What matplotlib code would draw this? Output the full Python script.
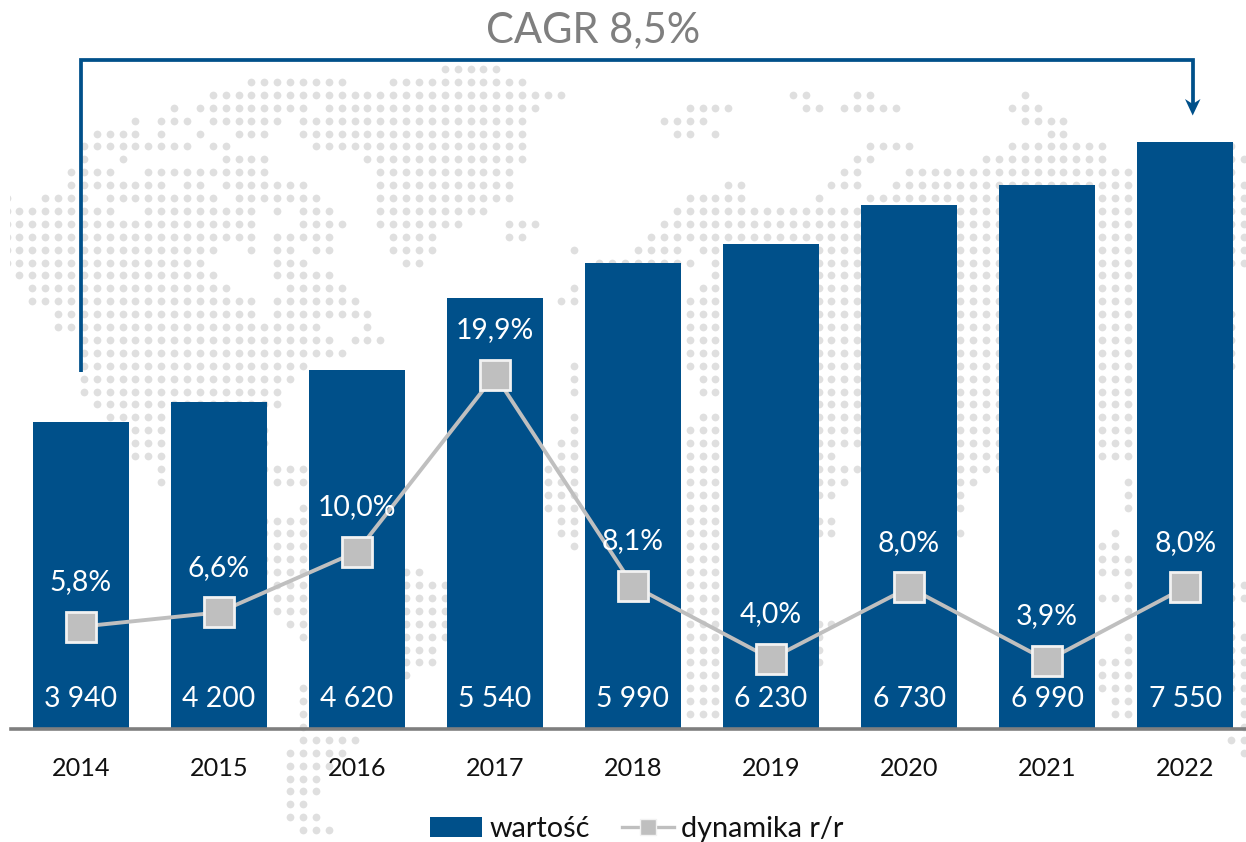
import matplotlib
matplotlib.use("Agg")
import matplotlib.pyplot as plt
from matplotlib.lines import Line2D
from matplotlib.patches import Patch, Polygon

plt.rcParams['font.family'] = ['Lato', 'DejaVu Sans']

years = ['2014', '2015', '2016', '2017', '2018', '2019', '2020', '2021', '2022']
values = [3940, 4200, 4620, 5540, 5990, 6230, 6730, 6990, 7550]
value_labels = ['3 940', '4 200', '4 620', '5 540', '5 990', '6 230', '6 730', '6 990', '7 550']
growth = [5.8, 6.6, 10.0, 19.9, 8.1, 4.0, 8.0, 3.9, 8.0]
growth_labels = ['5,8%', '6,6%', '10,0%', '19,9%', '8,1%', '4,0%', '8,0%', '3,9%', '8,0%']
cagr_label = 'CAGR 8,5%'
legend_labels = ['wartość', 'dynamika r/r']

# Decorative dotted world map: column runs per row of the dot grid
map_rows = [
    [(33, 37)],
    [(18, 25), (29, 39)],
    [(15, 42), (60, 61), (65, 66), (78, 78)],
    [(12, 12), (14, 22), (24, 40), (52, 55), (61, 62), (64, 68), (77, 79)],
    [(9, 9), (11, 13), (15, 20), (22, 39), (50, 53), (78, 81)],
    [(6, 9), (11, 11), (14, 14), (17, 19), (22, 39), (51, 52), (54, 54), (80, 81)],
    [(5, 13), (15, 16), (23, 39), (66, 69), (77, 84), (94, 94)],
    [(5, 5), (8, 8), (16, 19), (27, 39), (65, 66), (75, 84), (94, 95)],
    [(4, 7), (10, 19), (28, 38), (64, 65), (69, 86), (94, 94)],
    [(4, 11), (13, 14), (16, 22), (28, 38), (55, 56), (63, 65), (68, 86), (94, 95)],
    [(-1, -1), (2, 5), (7, 15), (17, 23), (28, 38), (52, 56), (62, 62), (66, 86), (94, 95)],
    [(-1, 7), (10, 18), (20, 20), (22, 24), (28, 36), (51, 86), (94, 95)],
    [(-1, 18), (22, 25), (28, 34), (38, 40), (50, 86), (94, 95)],
    [(-1, 18), (20, 24), (29, 32), (38, 39), (49, 86), (94, 95)],
    [(-1, 15), (18, 18), (20, 21), (23, 24), (29, 32), (43, 43), (48, 51), (53, 86), (94, 95)],
    [(-1, 14), (20, 22), (30, 31), (45, 52), (54, 86), (94, 95)],
    [(0, 15), (20, 24), (54, 54), (62, 86)],
    [(1, 16), (21, 25), (43, 43), (53, 54), (62, 86)],
    [(1, 18), (20, 26), (42, 43), (52, 54), (62, 86)],
    [(3, 18), (20, 27), (52, 54), (62, 86), (94, 94)],
    [(3, 23), (27, 27), (52, 54), (62, 86), (94, 94)],
    [(5, 24), (26, 28), (52, 54), (62, 86), (94, 94)],
    [(5, 25), (52, 54), (62, 86), (94, 94)],
    [(5, 22), (43, 43), (52, 54), (62, 86), (94, 94)],
    [(5, 21), (43, 43), (53, 54), (62, 86)],
    [(5, 20), (43, 43), (53, 54), (62, 86)],
    [(6, 20), (62, 86)],
    [(7, 11), (43, 43), (53, 54), (62, 86)],
    [(9, 11), (19, 19), (43, 43), (52, 54), (62, 65), (73, 76), (84, 86)],
    [(9, 11), (19, 19), (42, 43), (52, 54), (62, 65), (73, 76), (84, 86)],
    [(9, 11), (42, 43), (52, 54), (62, 63), (73, 76), (84, 86)],
    [(11, 11), (19, 22), (41, 43), (52, 54), (62, 65), (73, 76)],
    [(11, 11), (20, 22), (41, 43), (52, 54), (62, 64), (73, 74), (86, 86)],
    [(41, 43), (52, 54), (62, 63), (73, 73), (86, 86)],
    [(22, 22), (41, 43), (52, 54), (73, 73), (86, 86)],
    [(19, 22), (42, 43), (52, 54), (62, 63)],
    [(19, 22), (42, 43), (52, 54), (62, 63), (73, 73), (85, 85)],
    [(20, 22), (43, 43), (52, 54), (84, 85)],
    [(19, 22), (52, 54), (84, 86)],
    [(19, 22), (30, 31), (52, 54), (84, 86)],
    [(20, 22), (30, 33), (52, 54), (86, 86), (94, 95)],
    [(20, 22), (30, 33), (52, 54), (84, 86), (94, 95)],
    [(20, 22), (30, 33), (52, 54), (86, 86)],
    [(21, 22), (30, 33), (52, 54), (62, 63), (94, 94)],
    [(22, 22), (30, 33), (52, 54), (62, 62), (86, 86), (94, 95)],
    [(30, 32), (52, 54), (62, 62), (86, 86), (94, 95)],
    [(30, 32), (52, 54), (62, 62), (84, 86), (94, 95)],
    [(30, 30), (52, 54), (84, 86), (94, 95)],
    [(22, 22), (52, 54), (84, 86), (94, 95)],
    [(22, 22), (52, 54), (85, 86), (95, 95)],
    [(22, 22), (52, 54), (85, 86), (95, 95)],
    [(22, 22), (95, 95)],
    [(22, 26), (94, 95)],
    [(21, 25), (95, 95)],
    [(21, 24)],
    [(21, 23)],
    [(21, 23)],
    [(21, 22)],
    [(21, 23)],
    [(22, 24)],
]

W, H = 1246, 842
BLUE = '#00508A'
GREY = '#BFBFBF'

fig = plt.figure(figsize=(W / 100, H / 100), dpi=100, facecolor='white')

# background layer in pixel coordinates
bg = fig.add_axes([10 / W, 0, (W - 10) / W, 1], zorder=0)
bg.set_xlim(10, W)
bg.set_ylim(H, 0)
bg.axis('off')
dx, dy = [], []
for r, runs in enumerate(map_rows):
    for a, b in runs:
        for k in range(a, b + 1):
            dx.append(19.4 + 12.89 * k)
            dy.append(69 + 12.9 * r)
bg.scatter(dx, dy, s=31, c='#DFDFDF', linewidths=0)

# main chart
PX_PER_CAT = 138.05
X0 = 80.8
Y0 = 729.0
PX_PER_VAL = 0.0778
ax = fig.add_axes([0, 0, 1, 1], zorder=1)
ax.patch.set_visible(False)
ax.set_xlim(-X0 / PX_PER_CAT, (W - X0) / PX_PER_CAT)
ax.set_ylim(-(H - Y0) / PX_PER_VAL, Y0 / PX_PER_VAL)
xs = list(range(len(years)))
bars = ax.bar(xs, values, width=0.699, color=BLUE, linewidth=0)
for s in ('top', 'left', 'right'):
    ax.spines[s].set_visible(False)
ax.spines['bottom'].set_position(('data', 0))
ax.spines['bottom'].set_color('#7F7F7F')
ax.spines['bottom'].set_linewidth(2.6)
ax.spines['bottom'].set_bounds(ax.get_xlim()[0] + 10.7 / PX_PER_CAT, ax.get_xlim()[1])
ax.set_yticks([])
ax.set_xticks(xs)
ax.set_xticklabels(years, fontsize=18.2, color='#111111')
ax.tick_params(axis='x', length=0, pad=20.5)
for x, lab in zip(xs, value_labels):
    ax.annotate(lab, (x, 0), xytext=(0, 21.6), textcoords='offset points',
                ha='center', va='center', color='white', fontsize=20.4)

# growth line
PX_PER_PCT = 17.85
Y0P = 730.2
ax2 = ax.twinx()
ax2.set_zorder(2)
ax2.patch.set_visible(False)
ax2.set_ylim(-(H - Y0P) / PX_PER_PCT, Y0P / PX_PER_PCT)
ax2.set_yticks([])
for s in ax2.spines.values():
    s.set_visible(False)
ax2.plot(xs, growth, color=GREY, lw=2.8, marker='s', ms=21.2,
         mfc=GREY, mec='#F2F2F2', mew=2.0, solid_capstyle='round')
for x, g, lab in zip(xs, growth, growth_labels):
    ax2.annotate(lab, (x, g), xytext=(0, 32), textcoords='offset points',
                 ha='center', va='center', color='white', fontsize=20.4)

# CAGR bracket
ax3 = fig.add_axes([0, 0, 1, 1], zorder=3)
ax3.patch.set_visible(False)
ax3.axis('off')
ax3.set_xlim(0, W)
ax3.set_ylim(H, 0)
ax3.plot([81, 81, 1192.7, 1192.7], [372, 59.5, 59.5, 106], color=BLUE, lw=2.7,
         solid_joinstyle='miter', solid_capstyle='butt')
ax3.add_patch(Polygon([(1185, 99), (1192.7, 104), (1200.5, 99), (1192.7, 115.5)],
                      closed=True, fc=BLUE, ec='none'))
ax3.text(593.5, 30, cagr_label, ha='center', va='center', fontsize=30, color='#7F7F7F')

# legend
handles = [Patch(fc=BLUE, ec='none'),
           Line2D([], [], color=GREY, lw=2.4, marker='s', ms=11, mfc=GREY, mec='#F2F2F2', mew=1)]
ax3.legend(handles, legend_labels, loc='center', bbox_to_anchor=(637 / W, (H - 829) / H),
           bbox_transform=fig.transFigure, frameon=False, ncol=2, fontsize=20.8,
           handlelength=1.8, handleheight=0.68, handletextpad=0.25, columnspacing=1.1,
           labelcolor='#111111', borderpad=0, borderaxespad=0)

fig.savefig('out.png', dpi=100, facecolor='white')
